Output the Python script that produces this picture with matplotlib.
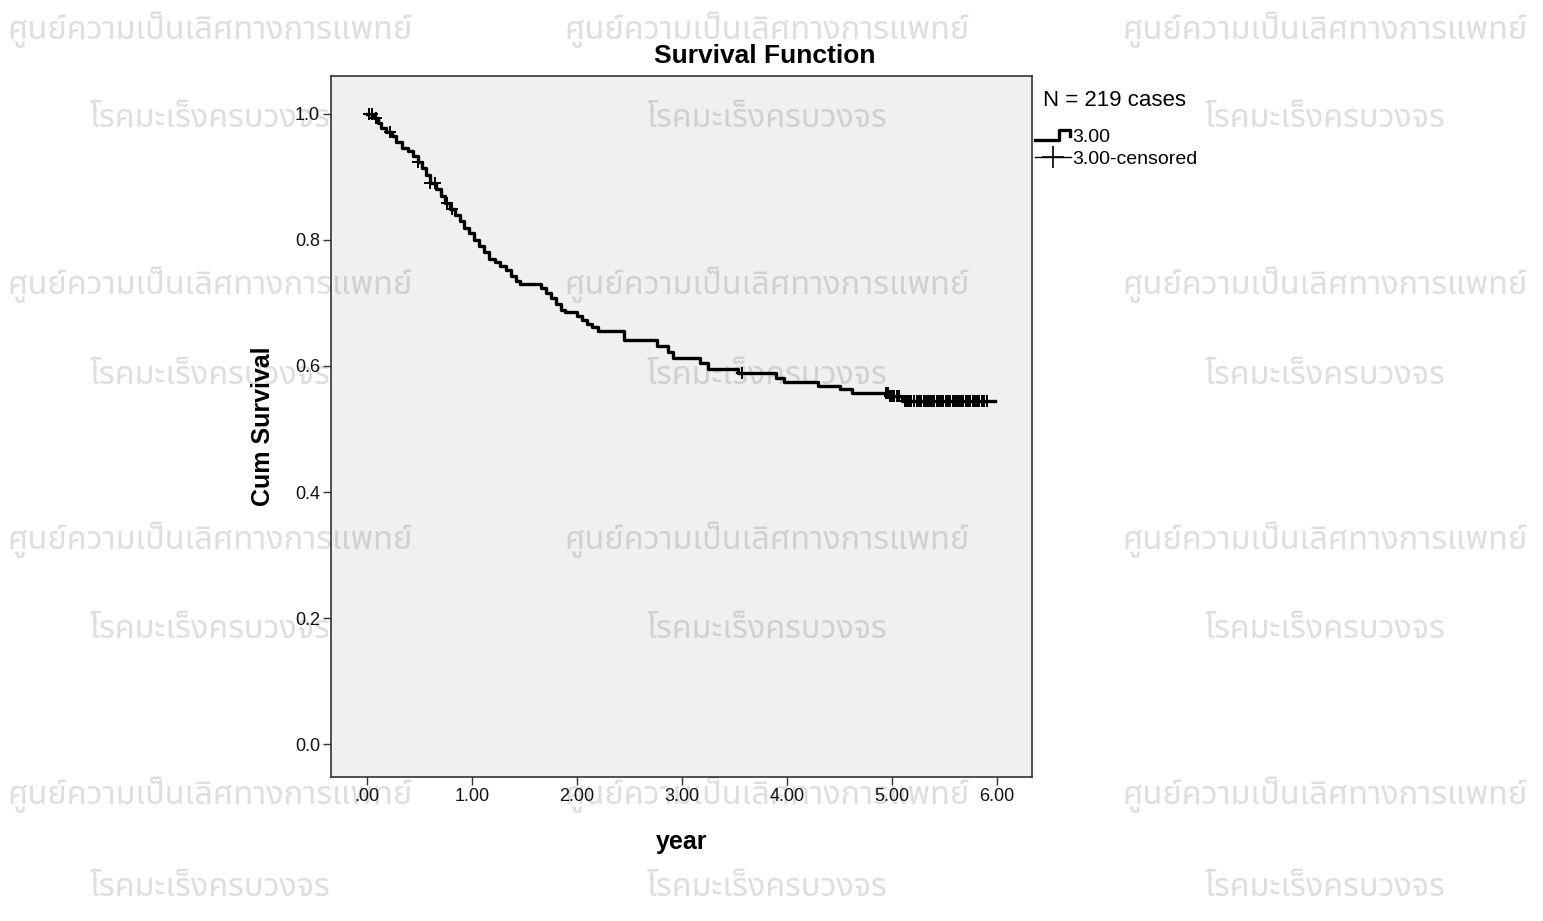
import numpy as np
import matplotlib
matplotlib.use('Agg')
import matplotlib.pyplot as plt
from matplotlib.lines import Line2D
from matplotlib.legend_handler import HandlerBase

plt.rcParams['font.family'] = ['Liberation Sans', 'DejaVu Sans']

# Kaplan-Meier steps (time in years, cumulative survival)
event_times = [0.00, 0.067, 0.105, 0.133, 0.181, 0.238, 0.276, 0.333, 0.390, 0.438,
               0.486, 0.524, 0.562, 0.600, 0.657, 0.705, 0.743, 0.790, 0.838, 0.886,
               0.924, 0.971, 1.019, 1.067, 1.114, 1.162, 1.219, 1.267, 1.324, 1.371,
               1.419, 1.457, 1.657, 1.705, 1.752, 1.800, 1.848, 1.886, 2.000, 2.048,
               2.095, 2.143, 2.200, 2.448, 2.762, 2.867, 2.914, 3.171, 3.248, 3.533,
               3.895, 3.971, 4.295, 4.505, 4.619, 4.962, 5.095]
survival = [1.000, 0.994, 0.986, 0.978, 0.971, 0.965, 0.956, 0.946, 0.941, 0.933,
            0.924, 0.914, 0.903, 0.890, 0.881, 0.870, 0.859, 0.849, 0.840, 0.830,
            0.819, 0.811, 0.800, 0.790, 0.781, 0.770, 0.765, 0.759, 0.752, 0.743,
            0.735, 0.730, 0.724, 0.716, 0.708, 0.698, 0.689, 0.686, 0.679, 0.673,
            0.667, 0.662, 0.656, 0.641, 0.632, 0.622, 0.613, 0.605, 0.595, 0.589,
            0.581, 0.575, 0.568, 0.563, 0.557, 0.552, 0.544]
last_time = 5.98

censored_times = [0.02, 0.05, 0.09, 0.22, 0.49, 0.60, 0.65, 0.76, 0.81, 3.57,
                  4.94, 4.96, 4.98, 5.00, 5.02, 5.05, 5.07,
                  5.12, 5.14, 5.16, 5.18, 5.21, 5.24, 5.26, 5.28, 5.30, 5.32,
                  5.34, 5.36, 5.38, 5.40, 5.43, 5.45, 5.47, 5.49, 5.51, 5.53,
                  5.55, 5.58, 5.60, 5.62, 5.64, 5.66, 5.68, 5.70, 5.72, 5.74,
                  5.77, 5.79, 5.81, 5.83, 5.86, 5.88, 5.90]

x_ticks = [0, 1, 2, 3, 4, 5, 6]
x_tick_labels = ['.00', '1.00', '2.00', '3.00', '4.00', '5.00', '6.00']
y_ticks = [0.0, 0.2, 0.4, 0.6, 0.8, 1.0]
y_tick_labels = ['0.0', '0.2', '0.4', '0.6', '0.8', '1.0']

n_cases = 219
group = '3.00'

watermark_top = 'ศูนย์ความเป็นเลิศทางการแพทย์'
watermark_bottom = 'โรคมะเร็งครบวงจร'
thai_fonts = ['Noto Sans Thai', 'Loma', 'Garuda', 'Norasi', 'Noto Sans', 'DejaVu Sans']

fig = plt.figure(figsize=(15.43, 9.21), dpi=100)
ax = fig.add_axes([331 / 1543, 1 - 777 / 921, 701 / 1543, 701 / 921])
ax.set_facecolor('#f0f0f0')

# step line plus censored crosses
t = np.append(event_times, last_time)
s = np.append(survival, survival[-1])
ax.step(t, s, where='post', color='black', lw=2.4, zorder=3)
idx = np.searchsorted(event_times, censored_times, side='right') - 1
cens_s = np.array(survival)[idx]
ax.plot(censored_times, cens_s, ls='none', marker='+', ms=9, mew=1.4,
        color='black', zorder=4)

ax.set_xlim(-0.343, 6.333)
ax.set_ylim(-0.052, 1.060)
ax.set_xticks(x_ticks)
ax.set_xticklabels(x_tick_labels)
ax.set_yticks(y_ticks)
ax.set_yticklabels(y_tick_labels)
ax.tick_params(direction='out', length=6, width=1, color='#333333',
               labelsize=13, labelcolor='#111111', pad=2)
for sp in ax.spines.values():
    sp.set_color('#333333')
    sp.set_linewidth(1.2)

ax.set_xlabel('year', fontsize=18, fontweight='bold', va='center')
ax.xaxis.set_label_coords(0.5, -0.093)
ax.set_ylabel('Cum Survival', fontsize=18, fontweight='bold', va='center')
ax.yaxis.set_label_coords(-0.097, 0.5)
fig.text(765 / 1543, 1 - 56 / 921, 'Survival Function', ha='center', va='center',
         fontsize=19, fontweight='bold')


class StepHandler(HandlerBase):
    def create_artists(self, legend, orig, xd, yd, w, h, fontsize, trans):
        xs = [0, 0.68 * w, 0.68 * w, 0.97 * w, 0.97 * w]
        ys = [0.15 * h, 0.15 * h, 0.85 * h, 0.85 * h, 0.4 * h]
        line = Line2D(np.array(xs) - xd, np.array(ys) - yd, color='black', lw=2.4)
        line.set_transform(trans)
        return [line]


h_step = Line2D([], [], color='black', lw=2.4)
h_cens = Line2D([0], [0], color='black', lw=1, marker='+', ms=16, mew=1.2)
fig.text(1043 / 1543, 1 - 100 / 921, 'N = %d cases' % n_cases, ha='left', va='center',
         fontsize=16)
leg = ax.legend([h_step, h_cens], [group, group + '-censored'],
                handler_map={h_step: StepHandler()},
                fontsize=14, frameon=False, loc='upper left',
                bbox_to_anchor=((1035 - 331) / 701, (777 - 128) / 701),
                handlelength=1.85, handletextpad=0.05,
                labelspacing=0.22, borderpad=0, borderaxespad=0)

# watermark grid
cols = [210, 767, 1325]
for row_y in [30, 285, 540, 795]:
    for cx in cols:
        fig.text(cx / 1543, 1 - row_y / 921, watermark_top, ha='center', va='center',
                 fontsize=23.4, color='black', alpha=0.13, zorder=10, family=thai_fonts)
for row_y in [118, 375, 630, 887]:
    for cx in cols:
        fig.text(cx / 1543, 1 - row_y / 921, watermark_bottom, ha='center', va='center',
                 fontsize=23.4, color='black', alpha=0.13, zorder=10, family=thai_fonts)

fig.savefig('out.png', dpi=100, facecolor='white')
